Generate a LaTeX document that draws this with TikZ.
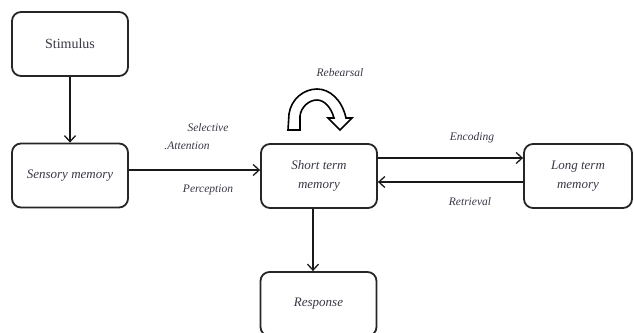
\documentclass[tikz,border=0pt]{standalone}
\usepackage{fontspec}
\setmainfont{Liberation Serif}
\usetikzlibrary{arrows.meta}
\definecolor{txt}{rgb}{0.22,0.22,0.28}
\begin{document}
\begin{tikzpicture}[x=1pt,y=-1pt,
  box/.style={draw=black!85,line width=1.8pt,rounded corners=9pt,fill=white,
    minimum width=116pt,minimum height=64pt,align=center,text=txt,
    font=\fontsize{13}{19}\selectfont\itshape,inner sep=0pt},
  lbl/.style={text=txt,font=\fontsize{11.5}{12}\selectfont\itshape,inner sep=0pt},
  arr/.style={draw=black!90,line width=1.3pt,-{Straight Barb[length=6pt,width=11pt,line width=1.3pt]}}]
\useasboundingbox[fill=white] (0,0) rectangle (634,332);
\node[box,font=\fontsize{14}{19}\selectfont] (stim) at (70,44) {Stimulus};
\node[box] (sens) at (70,175.5) {Sensory memory};
\node[box] (stm) at (319,176) {Short term\\memory};
\node[box,minimum width=108pt] (ltm) at (578,176) {Long term\\memory};
\node[box] (resp) at (318.5,304) {Response};
\draw[arr] (stim.south) -- (sens.north);
\draw[arr] ([yshift=5.5pt]sens.east) -- ([yshift=6pt]stm.west);
\draw[arr] ([yshift=18pt]stm.east) -- ([yshift=18pt]ltm.west);
\draw[arr] ([yshift=-6pt]ltm.west) -- ([yshift=-6pt]stm.east);
\draw[arr] ([xshift=-6pt]stm.south) -- ([xshift=-5.5pt]resp.north);
\node[lbl] (sel) at (208,128) {Selective};
\node[lbl] (att) at (187,146) {.Attention};
\node[lbl] (perc) at (208,190) {Perception};
\node[lbl] (reh) at (340,73) {Rebearsal};
\node[lbl] (enc) at (472,138) {Encoding};
\node[lbl] (ret) at (470,202) {Retrieval};
\draw[line width=1.6pt,fill=white,line join=miter]
  (288,130) -- (289,114) .. controls (291,99) and (304,89) .. (317,89)
  .. controls (330,89) and (342,100) .. (346,118)
  -- (352,118) -- (340,130) -- (328,118) -- (334,118)
  .. controls (331,107) and (324,100) .. (317,100)
  .. controls (309,100) and (301,107) .. (300,116)
  -- (300,130) -- cycle;
\end{tikzpicture}
\end{document}
